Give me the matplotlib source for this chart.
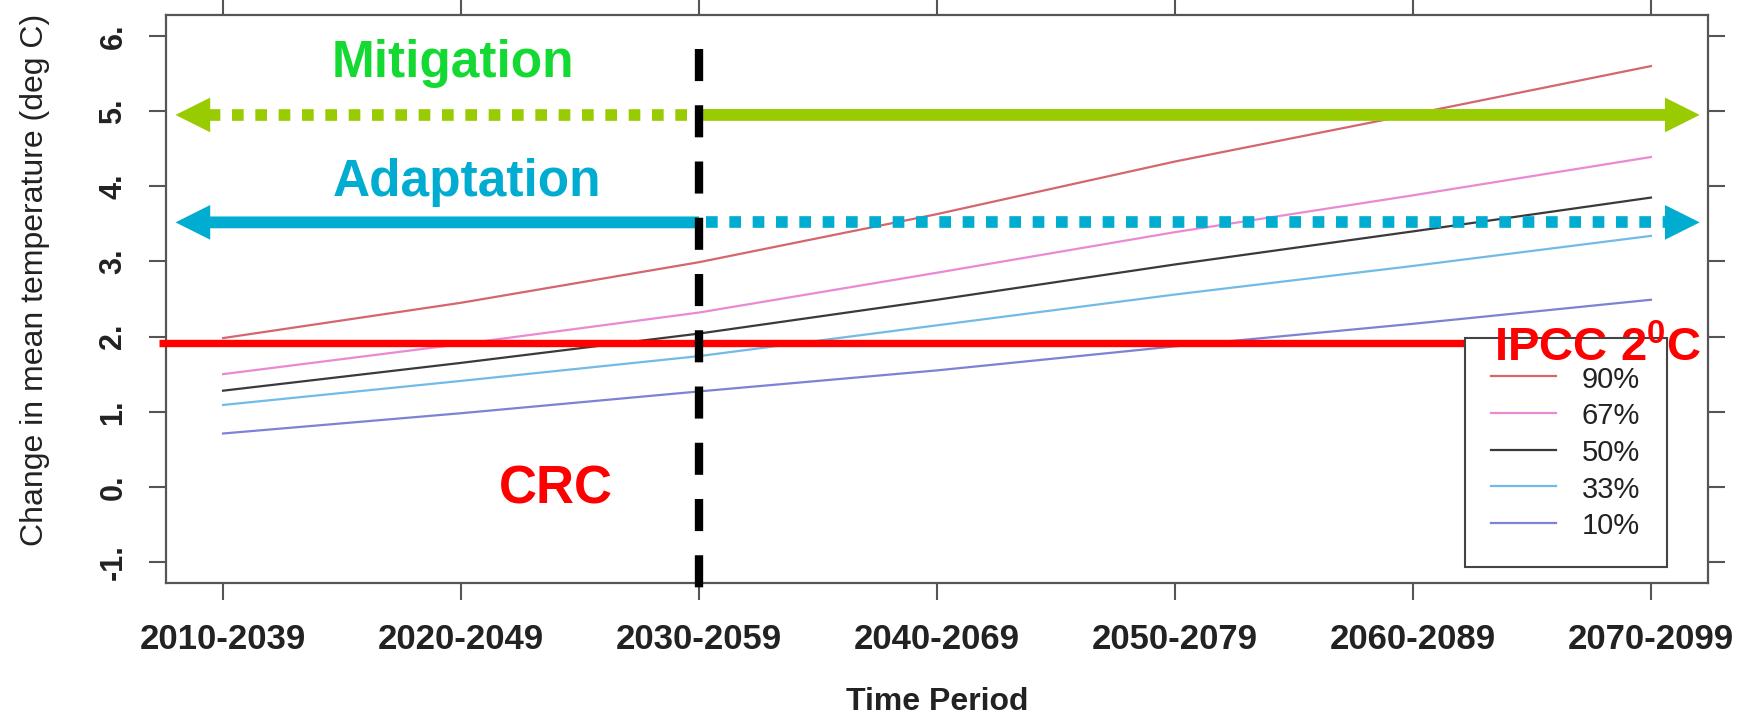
import matplotlib
matplotlib.use("Agg")
import matplotlib.pyplot as plt

plt.rcParams["font.family"] = ["Liberation Sans", "DejaVu Sans"]
plt.rcParams["mathtext.fontset"] = "custom"
plt.rcParams["mathtext.bf"] = "Liberation Sans:bold"
plt.rcParams["mathtext.rm"] = "Liberation Sans"

# data
periods = ["2010-2039", "2020-2049", "2030-2059", "2040-2069",
           "2050-2079", "2060-2089", "2070-2099"]
p90 = [1.98, 2.45, 2.99, 3.63, 4.33, 4.96, 5.60]
p67 = [1.50, 1.90, 2.32, 2.85, 3.39, 3.88, 4.39]
p50 = [1.28, 1.65, 2.04, 2.49, 2.96, 3.40, 3.85]
p33 = [1.09, 1.41, 1.74, 2.15, 2.56, 2.94, 3.34]
p10 = [0.71, 0.98, 1.27, 1.55, 1.87, 2.17, 2.49]
series_labels = ["90%", "67%", "50%", "33%", "10%"]
series_colors = ["#d4666e", "#e98ad2", "#3a3a3a", "#72bbe8", "#7c83d4"]

y_ticks = [-1, 0, 1, 2, 3, 4, 5, 6]
y_tick_labels = ["-1.", "0.", "1.", "2.", "3.", "4.", "5.", "6."]

ipcc_level = 1.92
ipcc_span = (-0.27, 5.34)
crc_index = 2                      # 2030-2059
crc_span = (5.83, -1.38)
mitigation_y = 4.95
adaptation_y = 3.52
arrow_span = (-0.20, 6.205)        # left and right arrow tips

GREEN = "#99cc00"
CYAN = "#00acd0"

fig = plt.figure(figsize=(17.47, 7.15), dpi=100)
ax = fig.add_axes([0.095, 0.1846, 0.8827, 0.7944])

x = list(range(len(periods)))
handles = []
for vals, col in zip([p90, p67, p50, p33, p10], series_colors):
    h, = ax.plot(x, vals, color=col, lw=1.6, zorder=2)
    handles.append(h)

# IPCC 2 degree line
ax.plot(list(ipcc_span), [ipcc_level, ipcc_level], color="#ff0000", lw=5.3,
        solid_capstyle="butt", clip_on=False, zorder=3)

# CRC vertical dashed line
ax.plot([crc_index, crc_index], list(crc_span), color="black", lw=6,
        linestyle=(0, (3.85, 2.9)), dash_capstyle="butt", clip_on=False, zorder=4)

head_len = 0.147  # arrow head length in data units


def solid_arrow(y, start, tip, color):
    ax.annotate("", xy=(tip, y), xytext=(start, y), annotation_clip=False,
                arrowprops=dict(arrowstyle="simple,head_length=1.0,head_width=1.0,tail_width=0.34",
                                mutation_scale=25, fc=color, ec="none", lw=0,
                                shrinkA=0, shrinkB=0), zorder=3)


def dotted_arrow(y, start, tip, color):
    base = tip - head_len if tip > start else tip + head_len
    ax.plot([start, base], [y, y], color=color, lw=8.4,
            linestyle=(0, (1.0, 1.0)), dash_capstyle="butt", zorder=3)
    ax.annotate("", xy=(tip, y), xytext=(start, y), annotation_clip=False,
                arrowprops=dict(arrowstyle="simple,head_length=1.0,head_width=1.0,tail_width=0.0",
                                mutation_scale=25, fc=color, ec="none", lw=0,
                                shrinkA=0, shrinkB=0), zorder=3)


# Mitigation: dotted before 2030, solid after
dotted_arrow(mitigation_y, crc_index - 0.05, arrow_span[0], GREEN)
solid_arrow(mitigation_y, crc_index, arrow_span[1], GREEN)
# Adaptation: solid before 2030, dotted after
solid_arrow(adaptation_y, crc_index, arrow_span[0], CYAN)
dotted_arrow(adaptation_y, crc_index + 0.03, arrow_span[1], CYAN)

ax.text(0.966, 5.45, "Mitigation", color="#14d933", fontsize=37,
        fontweight="bold", ha="center", va="baseline")
ax.text(1.024, 3.87, "Adaptation", color=CYAN, fontsize=37,
        fontweight="bold", ha="center", va="baseline")
ax.text(1.40, -0.22, "CRC", color="#ff0000", fontsize=38,
        fontweight="bold", ha="center", va="baseline")
ax.text(5.34, 1.67, r"IPCC 2$^{\mathbf{0}}$C", color="#ff0000", fontsize=34,
        fontweight="bold", ha="left", va="baseline", zorder=7)

ax.set_xlim(-0.24, 6.24)
ax.set_ylim(-1.28, 6.28)
ax.set_xticks(x)
ax.set_xticklabels(periods, fontsize=25, fontweight="bold", color="#222222")
ax.set_yticks(y_ticks)
ax.set_yticklabels(y_tick_labels, fontsize=22, fontweight="bold", rotation=90,
                   va="center", color="#222222")
ax.tick_params(axis="both", direction="out", length=12, width=1.5,
               color="#555555", top=True, right=True)
ax.tick_params(axis="x", pad=17)
ax.tick_params(axis="y", pad=15)
for s in ax.spines.values():
    s.set_color("#555555")
    s.set_linewidth(1.6)

ax.set_xlabel("Time Period", fontsize=23, fontweight="bold", color="#222222", labelpad=22)
ax.set_ylabel("Change in mean temperature (deg C)", fontsize=23, color="#222222")
ax.yaxis.set_label_coords(-0.075, 0.533)

leg = ax.legend(handles, series_labels, loc="lower right",
                bbox_to_anchor=(0.9734, 0.028), fontsize=21, frameon=True,
                fancybox=False, edgecolor="#444444", framealpha=1,
                handlelength=2.2, handletextpad=0.9, labelspacing=0.26,
                handleheight=1.0, borderpad=0.92, borderaxespad=0)
leg.get_frame().set_linewidth(1.5)
for t in leg.get_texts():
    t.set_color("#222222")
leg.set_zorder(5)

fig.savefig("out.png", dpi=100)
